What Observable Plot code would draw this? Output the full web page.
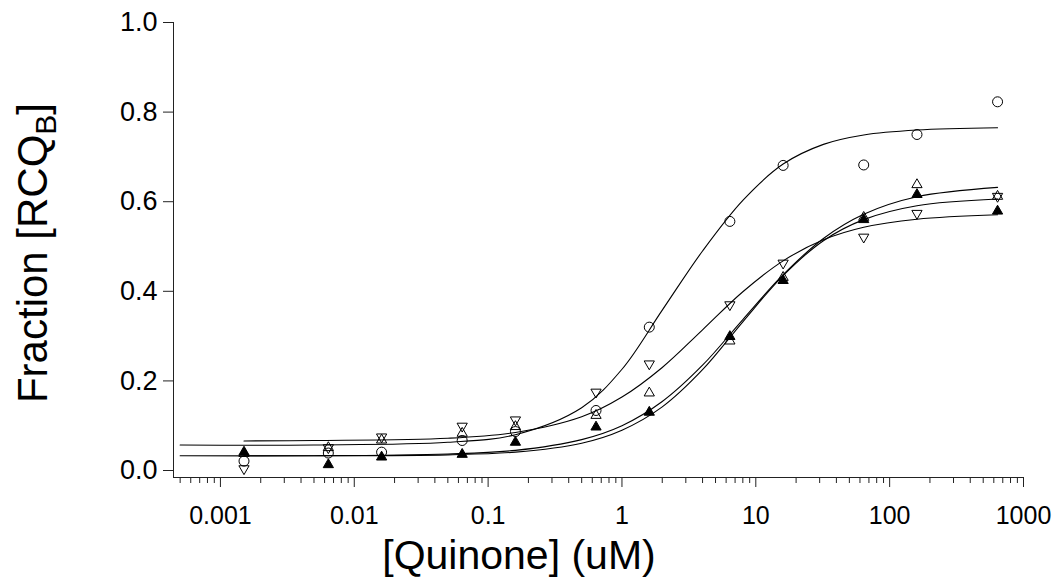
<!DOCTYPE html>
<html><head><meta charset="utf-8">
<script src="https://cdn.jsdelivr.net/npm/d3@7"></script>
<script src="https://cdn.jsdelivr.net/npm/@observablehq/plot@0.6"></script>
<style>body{margin:0;background:#fff} svg{display:block}</style>
</head><body><div id="chart"></div>
<script>
// Measured quinone concentrations (uM)
const conc = [0.0015, 0.0064, 0.016, 0.064, 0.16, 0.64, 1.6, 6.4, 16, 64, 160, 640];
// Fraction [RCQB] for each series
const circleY   = [0.021, 0.039, 0.041, 0.067, 0.087, 0.134, 0.320, 0.556, 0.681, 0.682, 0.750, 0.823];
const upOpenY   = [0.038, 0.051, 0.068, 0.083, 0.098, 0.123, 0.173, 0.289, 0.431, 0.565, 0.638, 0.612];
const downOpenY = [0.004, 0.051, 0.075, 0.099, 0.113, 0.175, 0.238, 0.370, 0.463, 0.521, 0.574, 0.612];
const filledY   = [0.041, 0.013, 0.030, 0.036, 0.063, 0.097, 0.130, 0.299, 0.424, 0.560, 0.616, 0.579];

// Fitted curves
const fitXLong  = [0.0005, 0.005, 0.05, 0.16, 0.5, 1, 2, 4, 8, 16, 32, 64, 160, 640];
const fitXShort = [0.0015, 0.005, 0.05, 0.16, 0.5, 1, 2, 4, 8, 16, 32, 64, 160, 640];
const circleFit   = [0.057, 0.057, 0.063, 0.080, 0.140, 0.226, 0.358, 0.490, 0.603, 0.684, 0.728, 0.749, 0.760, 0.765];
const downFit     = [0.066, 0.067, 0.072, 0.085, 0.120, 0.164, 0.230, 0.314, 0.399, 0.468, 0.515, 0.543, 0.561, 0.571];
const upFit       = [0.033, 0.033, 0.037, 0.045, 0.069, 0.100, 0.154, 0.235, 0.337, 0.437, 0.518, 0.572, 0.611, 0.632];
const filledFit   = [0.033, 0.033, 0.035, 0.041, 0.061, 0.090, 0.142, 0.225, 0.332, 0.435, 0.513, 0.560, 0.591, 0.606];

const majorTicks = [0.001, 0.01, 0.1, 1, 10, 100, 1000];
const yTicks = [0.0, 0.2, 0.4, 0.6, 0.8, 1.0];

const X_MIN = 0.000446, X_MAX = 1000, Y_MIN = -0.0156, Y_MAX = 1.0;

function rows(xs, ys, s) { return xs.map((x, i) => ({x, y: ys[i], s})); }
const fits = [
  ...rows(fitXLong, circleFit, "circle"),
  ...rows(fitXShort, downFit, "down"),
  ...rows(fitXLong, upFit, "up"),
  ...rows(fitXShort, filledFit, "filled")
];
const minorTicks = [];
for (let e = -4; e <= 2; e++) for (let k = 2; k <= 9; k++) {
  const v = +(k * Math.pow(10, e)).toPrecision(3);
  if (v >= X_MIN && v <= X_MAX) minorTicks.push(v);
}

const font = "'Liberation Sans', Arial, Helvetica, sans-serif";
const svg = Plot.plot({
  width: 1058, height: 577,
  marginLeft: 173, marginRight: 35, marginTop: 22, marginBottom: 100,
  style: {fontFamily: font, background: "white", color: "black", overflow: "visible"},
  x: {type: "log", domain: [X_MIN, X_MAX]},
  y: {domain: [Y_MIN, Y_MAX]},
  marks: [
    Plot.axisX({ticks: minorTicks, tickSize: 6, tickFormat: () => "", label: null, stroke: "#222"}),
    Plot.axisX({ticks: majorTicks, tickSize: 10, tickPadding: 19, fontSize: 25, tickFormat: d => String(d), label: null, stroke: "#222"}),
    Plot.axisY({ticks: yTicks, tickSize: 10, tickPadding: 6, fontSize: 27, tickFormat: d3.format(".1f"), label: null, stroke: "#222"}),
    Plot.ruleX([X_MIN], {stroke: "#222"}),
    Plot.ruleY([Y_MIN], {stroke: "#222"}),
    Plot.line(fits, {x: "x", y: "y", z: "s", curve: "catmull-rom", stroke: "black", strokeWidth: 1.1}),
    Plot.dot(rows(conc, circleY, "circle"), {x: "x", y: "y", symbol: "circle", r: 5, stroke: "black", fill: "none", strokeWidth: 1}),
    Plot.dot(rows(conc, upOpenY, "up"), {x: "x", y: "y", symbol: "triangle", r: 3.8, stroke: "black", fill: "none", strokeWidth: 1}),
    Plot.dot(rows(conc, downOpenY, "down"), {x: "x", y: "y", symbol: "triangle", rotate: 180, r: 3.8, stroke: "black", fill: "none", strokeWidth: 1}),
    Plot.dot(rows(conc, filledY, "filled"), {x: "x", y: "y", symbol: "triangle", r: 3.8, stroke: "black", fill: "black", strokeWidth: 1})
  ]
});

const s = d3.select(svg);
s.append("text")
  .attr("x", 519).attr("y", 569)
  .attr("text-anchor", "middle")
  .attr("font-size", 41).attr("font-family", font).attr("fill", "black")
  .text("[Quinone] (uM)");
const yt = s.append("text")
  .attr("transform", "translate(47,253) rotate(-90)")
  .attr("text-anchor", "middle")
  .attr("font-size", 42).attr("font-family", font).attr("fill", "black");
yt.append("tspan").text("Fraction [RCQ");
yt.append("tspan").attr("font-size", 30).attr("dy", 9).text("B");
yt.append("tspan").attr("dy", -9).text("]");

document.getElementById("chart").appendChild(svg);
</script>
</body></html>
